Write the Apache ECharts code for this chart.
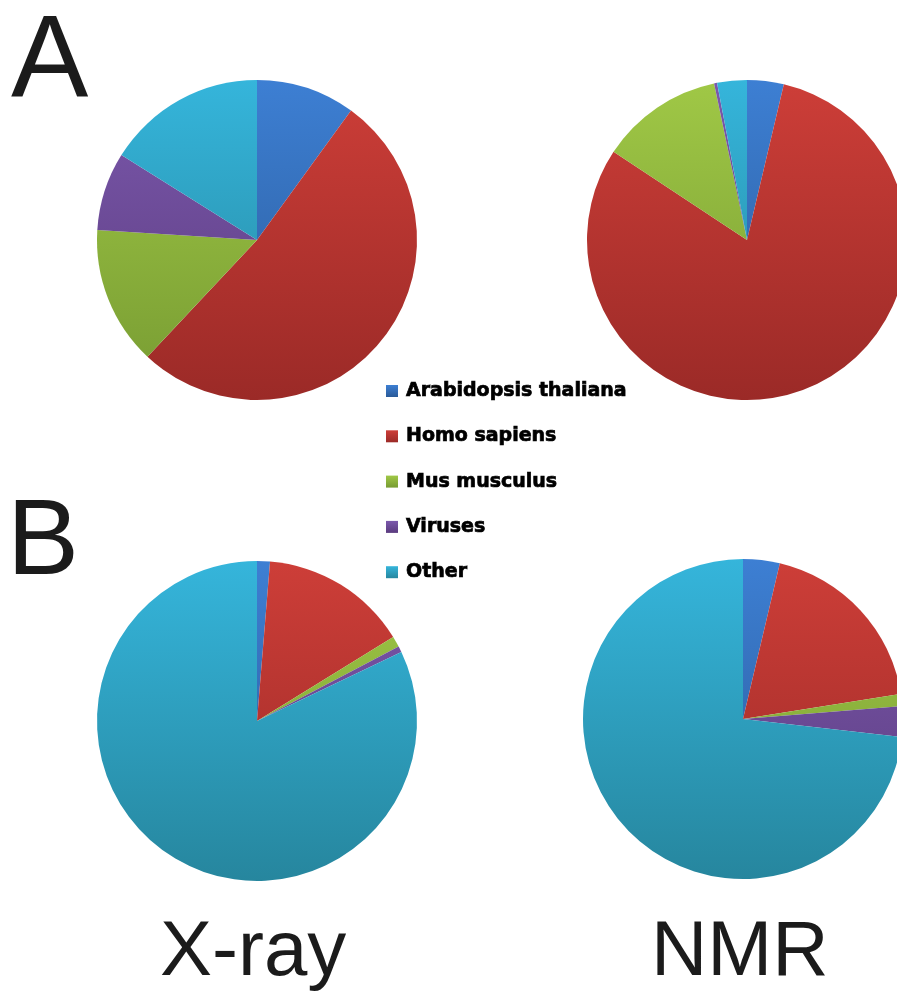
<!DOCTYPE html>
<html>
<head>
<meta charset="utf-8">
<script src="https://cdn.jsdelivr.net/npm/echarts@6/dist/echarts.min.js"></script>
<style>
  html, body { margin: 0; padding: 0; background: #ffffff; }
  #chart { width: 897px; height: 992px; }
</style>
</head>
<body>
<div id="chart"></div>
<script>
// Share of deposited structures per source organism (percent)
const categories = ['Arabidopsis thaliana', 'Homo sapiens', 'Mus musculus', 'Viruses', 'Other'];
const xrayA = [10.0, 52.0, 14.0, 7.9, 16.1];
const nmrA  = [3.7, 80.6, 12.4, 0.3, 3.0];
const xrayB = [1.3, 14.9, 1.1, 0.6, 82.1];
const nmrB  = [3.7, 18.8, 1.2, 3.1, 73.2];
const panelLabels = ['A', 'B'];
const methodLabels = ['X-ray', 'NMR'];

// Top / bottom shades for each category (vertical gradient over the whole pie)
const shades = [
  ['#3d7fd3', '#2a5a98'],
  ['#cd3e38', '#9b2a27'],
  ['#a0c846', '#779b32'],
  ['#7b58ac', '#5a3b7e'],
  ['#35b5db', '#26869e']
];

const R = 160;
const pies = [
  { values: xrayA, cx: 257, cy: 240 },
  { values: nmrA,  cx: 747, cy: 240 },
  { values: xrayB, cx: 257, cy: 721 },
  { values: nmrB,  cx: 743, cy: 719 }
];

function shade(i, cx, cy) {
  return {
    type: 'linear', global: true,
    x: cx, y: cy - R, x2: cx, y2: cy + R,
    colorStops: [
      { offset: 0, color: shades[i][0] },
      { offset: 1, color: shades[i][1] }
    ]
  };
}

const series = pies.map(p => ({
  type: 'pie',
  center: [p.cx, p.cy],
  radius: [0, R],
  startAngle: 90,
  clockwise: true,
  silent: true,
  label: { show: false },
  labelLine: { show: false },
  emphasis: { disabled: true },
  itemStyle: { borderWidth: 0 },
  data: categories.map((name, i) => ({
    name: name,
    value: p.values[i],
    itemStyle: { color: shade(i, p.cx, p.cy) }
  }))
}));

const bigFont = 'Liberation Sans, Arial, Helvetica, sans-serif';
function bigText(str, x, y, size) {
  return {
    type: 'text', left: x, top: y, silent: true,
    style: {
      text: str, fill: '#1b1b1b',
      font: size + 'px ' + bigFont
    }
  };
}

const chart = echarts.init(document.getElementById('chart'), null, { renderer: 'canvas' });
chart.setOption({
  animation: false,
  backgroundColor: '#ffffff',
  legend: {
    orient: 'vertical',
    left: 381,
    top: 376,
    itemWidth: 12,
    itemHeight: 12,
    itemGap: 25.3,
    icon: 'rect',
    selectedMode: false,
    textStyle: {
      fontFamily: 'DejaVu Sans',
      fontWeight: 'bold',
      fontSize: 19,
      lineHeight: 20,
      color: '#000000',
      textBorderColor: '#000000',
      textBorderWidth: 0.7,
      padding: [0, 0, 0, 3]
    },
    data: categories.map((name, i) => ({
      name: name,
      itemStyle: {
        color: {
          type: 'linear', x: 0, y: 0, x2: 0, y2: 1,
          colorStops: [
            { offset: 0, color: shades[i][0] },
            { offset: 1, color: shades[i][1] }
          ]
        }
      }
    }))
  },
  graphic: [
    bigText(panelLabels[0], 11, 7, 116),
    bigText(panelLabels[1], 7, 490, 108),
    bigText(methodLabels[0], 160, 914, 78),
    bigText(methodLabels[1], 651, 914, 78)
  ],
  series: series
});
</script>
</body>
</html>
